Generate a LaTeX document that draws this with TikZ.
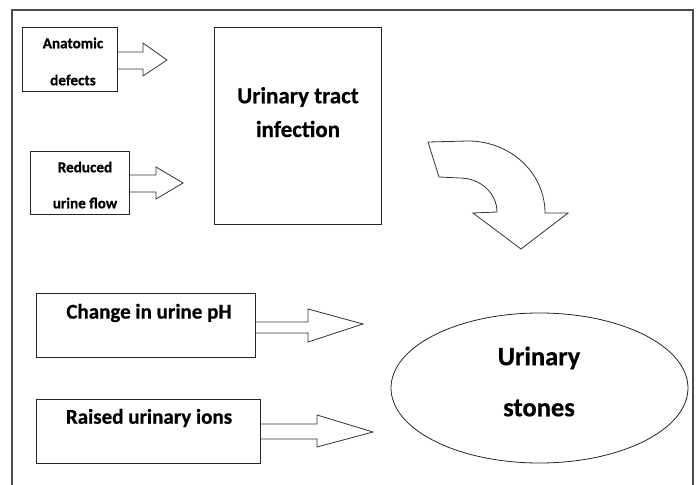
\documentclass[tikz,border=0pt]{standalone}
\usepackage{fontspec}
\setmainfont{Carlito}[BoldFeatures={FakeBold=0.6}]
\usetikzlibrary{shapes.geometric}
\begin{document}
\begin{tikzpicture}[x=1pt,y=-1pt,
  box/.style={draw=black!85, line width=0.9pt, rectangle, inner sep=0pt},
  blk/.style={draw=black!80, line width=0.8pt, line join=miter},
  stxt/.style={font=\bfseries\fontsize{15.2}{18}\selectfont, inner sep=0pt},
  mtxt/.style={font=\bfseries\fontsize{21}{25}\selectfont, inner sep=0pt},
  btxt/.style={font=\bfseries\fontsize{23}{27}\selectfont, inner sep=0pt},
  etxt/.style={font=\bfseries\fontsize{26.5}{31}\selectfont, inner sep=0pt}]
\useasboundingbox (0,0) rectangle (697,485);
% outer frame
\draw[draw=black!70, line width=1.2pt] (12,495) -- (12,10) -- (693,10) -- (693,495);
% boxes
\node[box, minimum width=95, minimum height=64] (ad) at (69.5,59) {};
\node[box, minimum width=99, minimum height=63] (rf) at (79.5,182.5) {};
\node[box, minimum width=167, minimum height=197] (uti) at (297.5,125.5) {};
\node[box, minimum width=219, minimum height=64] (ph) at (145.5,325) {};
\node[box, minimum width=224, minimum height=64] (ions) at (148,431) {};
\node[draw=black!85, line width=0.8pt, ellipse, minimum width=297, minimum height=150, inner sep=0pt] (st) at (539.5,388) {};
% texts
\node[stxt] (t1) at (73,43) {Anatomic};
\node[stxt] (t2) at (73,80) {defects};
\node[stxt] (t3) at (85,167) {Reduced};
\node[stxt] (t4) at (85,203) {urine flow};
\node[btxt] (t5) at (298,97) {Urinary tract};
\node[btxt] (t6) at (298,129) {infection};
\node[mtxt] (t7) at (149,313) {Change in urine pH};
\node[mtxt] (t8) at (149,418) {Raised urinary ions};
\node[etxt] (t9) at (539,358) {Urinary};
\node[etxt] (t10) at (539,408) {stones};
% block arrows
\draw[blk] (ad.east |- 0,52) -- (143,52) -- (143,43) -- (167,60) -- (143,76) -- (143,69) -- (ad.east |- 0,69);
\draw[blk] (rf.east |- 0,175) -- (156,175) -- (156,167) -- (183,183) -- (156,199) -- (156,192) -- (rf.east |- 0,192);
\draw[blk] (ph.east |- 0,322) -- (308,322) -- (308,309) -- (363,324) -- (308,342) -- (308,333) -- (ph.east |- 0,333);
\draw[blk] (ions.east |- 0,424) -- (317,424) -- (317,415) -- (373,432) -- (317,447) -- (317,439) -- (ions.east |- 0,439);
% curved arrow
\draw[blk] (428,142) -- (468,141) .. controls (510.5,141) and (545,173) .. (545,213)
  -- (568,213) -- (521,249) -- (473,213) -- (497,212)
  .. controls (497,193) and (480,178) .. (460,178) -- (439,177) -- cycle;
\end{tikzpicture}
\end{document}
